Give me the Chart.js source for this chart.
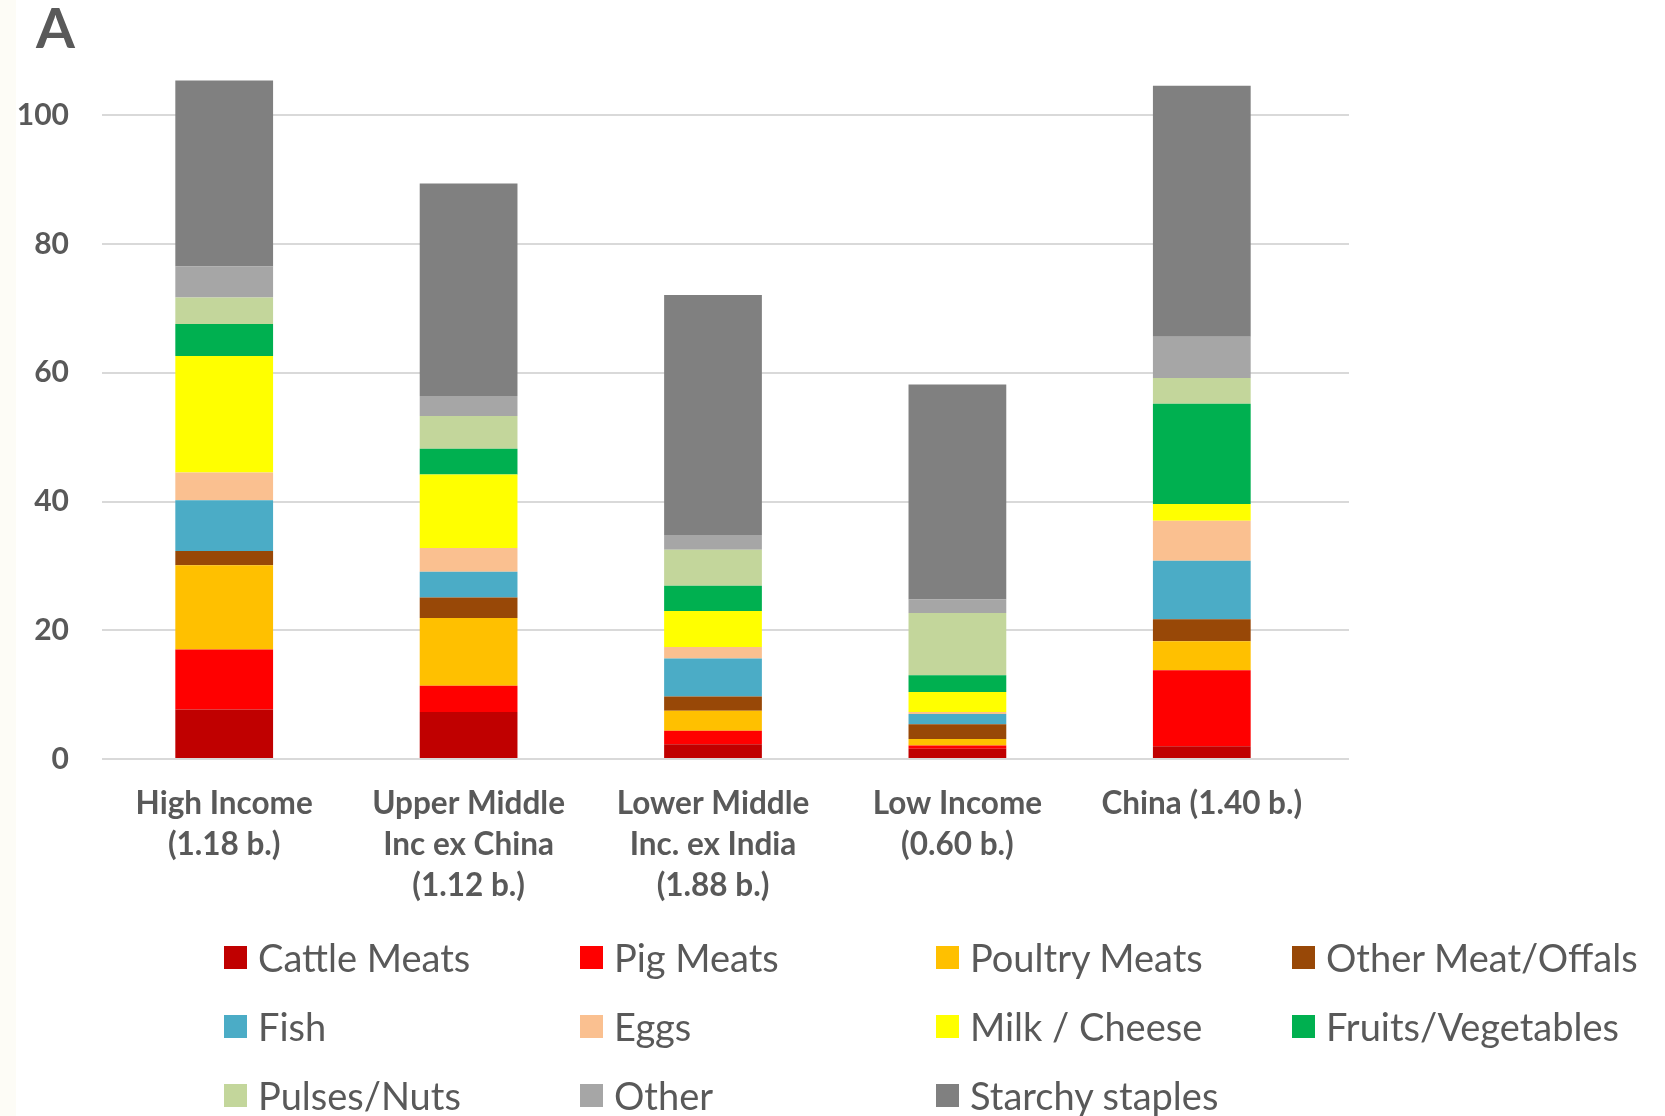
<!DOCTYPE html>
<html>
<head>
<meta charset="utf-8">
<script src="https://cdn.jsdelivr.net/npm/chart.js@4.4.1/dist/chart.umd.min.js"></script>
<style>
  html, body { margin: 0; padding: 0; background: #fff; }
  #wrap { position: relative; width: 1665px; height: 1116px; overflow: hidden; font-family: Lato, "Open Sans", sans-serif; color: #595959; }
  #strip { position: absolute; left: 0; top: 0; width: 16px; height: 100%; background: #fdfcf6; }
  #tag { position: absolute; left: 36px; top: -7px; font: bold 56px Lato, sans-serif; color: #595959; }
  #chart { position: absolute; left: 0; top: 0; }
  .item { position: absolute; display: flex; align-items: center; font-size: 38px; white-space: nowrap; }
  .item i { display: inline-block; width: 23px; height: 23px; margin-right: 11px; }
</style>
</head>
<body>
<div id="wrap">
  <div id="strip"></div>
  <canvas id="chart" width="1665" height="1116"></canvas>
  <div id="tag">A</div>
  <div id="legend"></div>
</div>
<script>
const groups = [
  ['High Income', '(1.18 b.)'],
  ['Upper Middle', 'Inc ex China', '(1.12 b.)'],
  ['Lower Middle', 'Inc. ex India', '(1.88 b.)'],
  ['Low Income', '(0.60 b.)'],
  ['China (1.40 b.)']
];

// per-capita amounts, stacked bottom to top
const cattleMeats  = [7.7, 7.3, 2.3, 1.6, 2.0];
const pigMeats     = [9.3, 4.1, 2.1, 0.5, 11.8];
const poultryMeats = [13.1, 10.5, 3.1, 1.0, 4.5];
const otherMeat    = [2.2, 3.2, 2.2, 2.3, 3.4];
const fish         = [7.9, 4.0, 5.9, 1.6, 9.1];
const eggs         = [4.3, 3.7, 1.8, 0.3, 6.2];
const milkCheese   = [18.1, 11.4, 5.6, 3.1, 2.6];
const fruitsVeg    = [5.0, 4.0, 3.9, 2.6, 15.6];
const pulsesNuts   = [4.1, 5.1, 5.6, 9.7, 4.0];
const otherFood    = [4.8, 3.1, 2.3, 2.1, 6.4];
const starchy      = [28.9, 33.0, 37.3, 33.4, 39.0];

const seriesNames  = ['Cattle Meats', 'Pig Meats', 'Poultry Meats', 'Other Meat/Offals', 'Fish', 'Eggs',
                      'Milk / Cheese', 'Fruits/Vegetables', 'Pulses/Nuts', 'Other', 'Starchy staples'];
const seriesValues = [cattleMeats, pigMeats, poultryMeats, otherMeat, fish, eggs,
                      milkCheese, fruitsVeg, pulsesNuts, otherFood, starchy];
const seriesColors = ['#c00000', '#ff0000', '#ffc000', '#984807', '#4bacc6', '#fac090',
                      '#ffff00', '#00b050', '#c3d69b', '#a6a6a6', '#808080'];

const yTicks = [0, 20, 40, 60, 80, 100];

const textColor = '#595959';
const gridColor = '#d9d9d9';

// carry the horizontal gridlines a little past the last category
const gridTail = {
  id: 'gridTail',
  beforeDatasetsDraw(chart) {
    const { ctx, chartArea, scales } = chart;
    ctx.save();
    ctx.strokeStyle = gridColor;
    ctx.lineWidth = 2;
    yTicks.forEach(v => {
      const y = Math.round(scales.y.getPixelForValue(v));
      ctx.beginPath();
      ctx.moveTo(chartArea.right, y);
      ctx.lineTo(chartArea.right + 25, y);
      ctx.stroke();
    });
    ctx.restore();
  }
};

const chart = new Chart(document.getElementById('chart'), {
  type: 'bar',
  data: {
    labels: groups,
    datasets: seriesNames.map((name, i) => ({
      label: name,
      data: seriesValues[i],
      backgroundColor: seriesColors[i],
      borderWidth: 0,
      categoryPercentage: 1,
      barPercentage: 0.4
    }))
  },
  options: {
    responsive: false,
    animation: false,
    layout: { padding: { top: 47, right: 341, left: 0, bottom: 0 } },
    plugins: { legend: { display: false }, tooltip: { enabled: false } },
    scales: {
      x: {
        stacked: true,
        grid: { display: false, drawTicks: false },
        border: { display: false },
        ticks: {
          color: textColor,
          padding: 25,
          maxRotation: 0,
          autoSkip: false,
          font: { family: 'Lato', size: 31.5, weight: 'bold', lineHeight: 1.29 }
        },
        afterFit(s) { s.height = 1116 - 759; }
      },
      y: {
        stacked: true,
        min: 0,
        max: 110,
        grid: {
          color: c => (c.tick && c.tick.value % 20 === 0) ? gridColor : 'rgba(0,0,0,0)',
          lineWidth: 2,
          drawTicks: false
        },
        border: { display: false },
        ticks: {
          stepSize: 20,
          padding: 33,
          color: textColor,
          callback: v => (v % 20 === 0 ? v : ''),
          font: { family: 'Lato', size: 30, weight: 'bold' }
        },
        afterFit(s) { s.width = 102; }
      }
    }
  },
  plugins: [gridTail]
});

// legend laid out in four fixed columns
const legend = document.getElementById('legend');
chart.data.datasets.forEach((ds, i) => {
  const col = i % 4, row = Math.floor(i / 4);
  const el = document.createElement('div');
  el.className = 'item';
  el.style.left = (224 + col * 356) + 'px';
  el.style.top = (957 + row * 69 - 25) + 'px';
  el.style.height = '50px';
  el.innerHTML = `<i style="background:${ds.backgroundColor}"></i>${ds.label}`;
  legend.appendChild(el);
});
</script>
</body>
</html>
